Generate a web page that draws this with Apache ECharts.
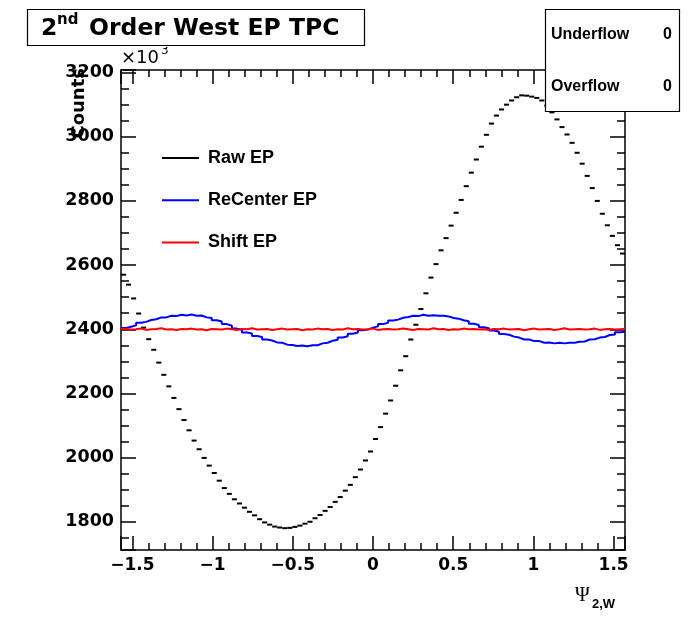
<!DOCTYPE html>
<html>
<head>
<meta charset="utf-8">
<script src="https://cdn.jsdelivr.net/npm/echarts@6/dist/echarts.min.js"></script>
<style>
  html, body { margin: 0; padding: 0; background: #ffffff; }
  #chart { width: 690px; height: 617px; }
</style>
</head>
<body>
<div id="chart"></div>
<script>
// Histogram binning of the 2nd-order event-plane angle
const PSI_MIN = -Math.PI / 2;
const PSI_MAX = Math.PI / 2;
const NBINS = 100;

// Vertical range of the counts axis (in units of 10^3)
const COUNT_MIN = 1712;
const COUNT_MAX = 3208;

const seriesNames = ['Raw EP', 'ReCenter EP', 'Shift EP'];

// Raw event-plane distribution (counts / 10^3 per bin)
const rawCounts = [
  2570, 2539, 2496, 2449, 2405, 2369, 2336, 2296, 2258, 2222,
  2186, 2151, 2117, 2085, 2053, 2026, 1999, 1975, 1952, 1928,
  1905, 1887, 1870, 1857, 1844, 1831, 1820, 1808, 1798, 1791,
  1785, 1782, 1780, 1781, 1784, 1788, 1794, 1800, 1811, 1821,
  1834, 1846, 1862, 1877, 1897, 1915, 1939, 1963, 1991, 2019,
  2058, 2095, 2137, 2178, 2224, 2272, 2316, 2368, 2414, 2463,
  2512, 2561, 2603, 2646, 2684, 2723, 2763, 2803, 2846, 2888,
  2929, 2969, 3006, 3041, 3066, 3085, 3100, 3113, 3123, 3129,
  3128, 3125, 3121, 3113, 3097, 3076, 3054, 3030, 3007, 2981,
  2950, 2916, 2878, 2840, 2800, 2760, 2724, 2691, 2662, 2636
];

// After re-centering correction
const recenterCounts = [
  2404, 2408, 2412, 2420, 2423, 2429, 2431, 2437, 2437, 2442,
  2441, 2445, 2443, 2446, 2442, 2443, 2437, 2435, 2428, 2424,
  2416, 2411, 2402, 2398, 2390, 2387, 2379, 2376, 2368, 2365,
  2359, 2358, 2352, 2351, 2348, 2349, 2347, 2350, 2350, 2356,
  2358, 2364, 2367, 2374, 2378, 2386, 2390, 2397, 2399, 2405,
  2409, 2416, 2420, 2427, 2430, 2436, 2438, 2442, 2441, 2445,
  2442, 2444, 2442, 2442, 2440, 2435, 2433, 2428, 2425, 2417,
  2413, 2406, 2403, 2396, 2392, 2385, 2383, 2377, 2374, 2368,
  2368, 2363, 2363, 2358, 2359, 2356, 2358, 2356, 2358, 2358,
  2361, 2362, 2368, 2369, 2374, 2376, 2382, 2384, 2391, 2392
];

// After shift (flattening) correction
const shiftCounts = [
  2401, 2399, 2400, 2402, 2398, 2400, 2401, 2403, 2399, 2400,
  2398, 2401, 2400, 2402, 2399, 2400, 2397, 2401, 2400, 2399,
  2402, 2400, 2398, 2401, 2400, 2403, 2399, 2400, 2401, 2398,
  2400, 2402, 2399, 2400, 2401, 2397, 2400, 2399, 2402, 2400,
  2401, 2398, 2400, 2399, 2403, 2400, 2401, 2399, 2400, 2402,
  2398, 2400, 2401, 2399, 2400, 2402, 2400, 2398, 2401, 2400,
  2399, 2403, 2400, 2401, 2398, 2400, 2399, 2402, 2400, 2401,
  2399, 2400, 2398, 2401, 2400, 2402, 2399, 2400, 2401, 2397,
  2400, 2402, 2399, 2400, 2401, 2398, 2400, 2403, 2399, 2400,
  2401, 2399, 2400, 2402, 2398, 2400, 2401, 2399, 2400, 2401
];

const binEdge = i => PSI_MIN + i * (PSI_MAX - PSI_MIN) / NBINS;
// [low edge, high edge, content] for each bin
const binSegments = counts => counts.map((v, i) => [binEdge(i), binEdge(i + 1), v]);
// step outline: value at each low edge plus the closing high edge
const stepOutline = counts =>
  counts.map((v, i) => [binEdge(i), v]).concat([[binEdge(NBINS), counts[NBINS - 1]]]);

const TICK_FONT = "'DejaVu Sans', sans-serif";
const TEXT_FONT = "'Liberation Sans', Arial, sans-serif";
const minus = s => String(s).replace('-', '\u2212');

const axisLineStyle = { lineStyle: { color: '#000', width: 1.5 } };

function xAxisCfg(pos, labels) {
  return {
    type: 'value', position: pos, min: PSI_MIN, max: PSI_MAX, splitNumber: 6,
    axisLine: { show: true, onZero: false, ...axisLineStyle },
    axisTick: { show: true, inside: true, length: 14, lineStyle: { color: '#000', width: 1.5 } },
    minorTick: { show: true, splitNumber: 5, length: 7, lineStyle: { color: '#000', width: 1.5 } },
    splitLine: { show: false },
    axisLabel: {
      show: labels, showMinLabel: false, showMaxLabel: false, margin: 7,
      color: '#000', fontFamily: TICK_FONT, fontWeight: 'bold', fontSize: 17,
      formatter: v => minus(v)
    }
  };
}
function yAxisCfg(pos, labels) {
  return {
    type: 'value', position: pos, min: COUNT_MIN, max: COUNT_MAX, splitNumber: 7,
    axisLine: { show: true, onZero: false, ...axisLineStyle },
    axisTick: { show: true, inside: true, length: 15, lineStyle: { color: '#000', width: 1.5 } },
    minorTick: { show: true, splitNumber: 4, length: 8, lineStyle: { color: '#000', width: 1.5 } },
    splitLine: { show: false },
    axisLabel: {
      show: labels, showMinLabel: false, showMaxLabel: false, margin: 7,
      color: '#000', fontFamily: TICK_FONT, fontWeight: 'bold', fontSize: 17.5,
      formatter: v => String(v)
    }
  };
}

const chart = echarts.init(document.getElementById('chart'), null, { renderer: 'canvas' });

chart.setOption({
  animation: false,
  backgroundColor: '#ffffff',
  grid: { left: 121, right: 65, top: 70, bottom: 67, containLabel: false },
  xAxis: [xAxisCfg('bottom', true), xAxisCfg('top', false)],
  yAxis: [yAxisCfg('left', true), yAxisCfg('right', false)],
  legend: {
    orient: 'vertical', left: 162, top: 149, padding: 0,
    itemWidth: 37, itemHeight: 2, itemGap: 24.2, icon: 'rect',
    selectedMode: false,
    data: seriesNames,
    textStyle: { color: '#000', fontFamily: TEXT_FONT, fontWeight: 'bold', fontSize: 18, padding: [0, 0, 0, 4] }
  },
  series: [
    {
      name: seriesNames[0], type: 'custom', coordinateSystem: 'cartesian2d',
      xAxisIndex: 0, yAxisIndex: 0,
      itemStyle: { color: '#000000' },
      encode: { x: [0, 1], y: 2 },
      data: binSegments(rawCounts),
      renderItem: (params, api) => {
        const a = api.coord([api.value(0), api.value(2)]);
        const b = api.coord([api.value(1), api.value(2)]);
        return {
          type: 'line',
          shape: { x1: a[0], y1: a[1], x2: b[0], y2: b[1] },
          style: { stroke: '#000000', lineWidth: 2 }
        };
      }
    },
    {
      name: seriesNames[1], type: 'line', step: 'end', symbol: 'none',
      xAxisIndex: 0, yAxisIndex: 0,
      itemStyle: { color: '#0000ff' },
      lineStyle: { color: '#0000ff', width: 2 },
      data: stepOutline(recenterCounts)
    },
    {
      name: seriesNames[2], type: 'line', step: 'end', symbol: 'none',
      xAxisIndex: 0, yAxisIndex: 0,
      itemStyle: { color: '#ff0000' },
      lineStyle: { color: '#ff0000', width: 2 },
      data: stepOutline(shiftCounts)
    }
  ],
  graphic: [
    // histogram title box
    { type: 'rect', z: 100, shape: { x: 27.5, y: 9.5, width: 337, height: 36 },
      style: { fill: '#ffffff', stroke: '#000000', lineWidth: 1.2 } },
    { type: 'text', z: 101, x: 41, y: 29,
      style: { text: '2', font: "bold 23.5px 'DejaVu Sans'", fill: '#000', textVerticalAlign: 'middle', verticalAlign: 'middle' } },
    { type: 'text', z: 101, x: 57, y: 20,
      style: { text: 'nd', font: "bold 15px 'DejaVu Sans'", fill: '#000', textVerticalAlign: 'middle', verticalAlign: 'middle' } },
    { type: 'text', z: 101, x: 89, y: 29,
      style: { text: 'Order West EP TPC', font: "bold 23.5px 'DejaVu Sans'", fill: '#000', textVerticalAlign: 'middle', verticalAlign: 'middle' } },

    // statistics box
    { type: 'rect', z: 100, shape: { x: 545.5, y: 9.5, width: 134, height: 102 },
      style: { fill: '#ffffff', stroke: '#000000', lineWidth: 1.2 } },
    { type: 'text', z: 101, x: 551, y: 35,
      style: { text: 'Underflow', font: "bold 16px 'Liberation Sans'", fill: '#000', textVerticalAlign: 'middle', verticalAlign: 'middle' } },
    { type: 'text', z: 101, x: 672, y: 35,
      style: { text: '0', font: "bold 16px 'Liberation Sans'", fill: '#000', textAlign: 'right', align: 'right', textVerticalAlign: 'middle', verticalAlign: 'middle' } },
    { type: 'text', z: 101, x: 551, y: 86.5,
      style: { text: 'Overflow', font: "bold 16px 'Liberation Sans'", fill: '#000', textVerticalAlign: 'middle', verticalAlign: 'middle' } },
    { type: 'text', z: 101, x: 672, y: 86.5,
      style: { text: '0', font: "bold 16px 'Liberation Sans'", fill: '#000', textAlign: 'right', align: 'right', textVerticalAlign: 'middle', verticalAlign: 'middle' } },

    // y-axis title and exponent
    { type: 'text', z: 1, x: 79, y: 68, rotation: Math.PI / 2,
      style: { text: 'Counts', font: "bold 18px 'DejaVu Sans'", fill: '#000', textAlign: 'right', align: 'right', textVerticalAlign: 'middle', verticalAlign: 'middle' } },
    { type: 'text', z: 1, x: 121, y: 58,
      style: { text: '\u00d710', font: "18px 'DejaVu Sans'", fill: '#000', textVerticalAlign: 'middle', verticalAlign: 'middle' } },
    { type: 'text', z: 1, x: 161, y: 51,
      style: { text: '3', font: "12px 'DejaVu Sans'", fill: '#000', textVerticalAlign: 'middle', verticalAlign: 'middle' } },
    { type: 'rect', z: 2, shape: { x: 158, y: 40, width: 14, height: 7 },
      style: { fill: '#ffffff' } },

    // x-axis title
    { type: 'text', z: 1, x: 575, y: 596,
      style: { text: '\u03a8', font: "20px 'Liberation Serif'", fill: '#000', textVerticalAlign: 'middle', verticalAlign: 'middle' } },
    { type: 'text', z: 1, x: 592, y: 604,
      style: { text: '2,W', font: "bold 13px 'Liberation Sans'", fill: '#000', textVerticalAlign: 'middle', verticalAlign: 'middle' } }
  ]
});
</script>
</body>
</html>
